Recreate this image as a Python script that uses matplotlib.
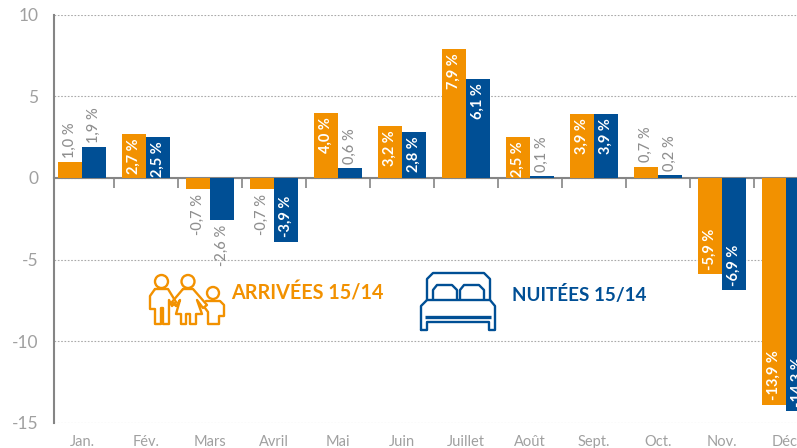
import matplotlib
matplotlib.use('Agg')
import numpy as np
import matplotlib.pyplot as plt
from matplotlib.patches import PathPatch, Circle
from matplotlib.path import Path

months = ['Jan.', 'Fév.', 'Mars', 'Avril', 'Mai', 'Juin', 'Juillet', 'Août', 'Sept.', 'Oct.', 'Nov.', 'Déc.']
arrivees = [1.0, 2.7, -0.7, -0.7, 4.0, 3.2, 7.9, 2.5, 3.9, 0.7, -5.9, -13.9]
nuitees = [1.9, 2.5, -2.6, -3.9, 0.6, 2.8, 6.1, 0.1, 3.9, 0.2, -6.9, -14.3]

ORANGE = '#f29100'
BLUE = '#004f95'
GREY = '#a0a0a0'
AXIS = '#858585'
plt.rcParams['font.family'] = ['Lato', 'DejaVu Sans']

fig = plt.figure(figsize=(7.97, 4.48), dpi=100)
W, H = 797, 448
# axes box in pixels: x 53.5..797, y 15..422.5
ax = fig.add_axes([53.5/W, 1-422.5/H, (W-53.5)/W, (422.5-15)/H])

x = np.arange(len(months))
bw = 0.37
ax.bar(x-bw/2, arrivees, bw, color=ORANGE, zorder=3)
ax.bar(x+bw/2, nuitees, bw, color=BLUE, zorder=3)


def put_label(xp, v):
    txt = f'{v:.1f} %'.replace('.', ',')
    inside = v >= 2.5 or v <= -3
    if inside:
        off, col, va = (-3, 'white', 'top') if v > 0 else (3, 'white', 'bottom')
    else:
        off, col, va = (3, '#8f8f8f', 'bottom') if v > 0 else (-3, '#8f8f8f', 'top')
    ax.annotate(txt, (xp, v), xytext=(0, off), textcoords='offset points', rotation=90,
                ha='center', va=va, color=col, fontsize=10.5, fontweight='bold' if inside else 'medium',
                zorder=4, annotation_clip=False)


for i in x:
    put_label(i-bw/2, arrivees[i])
    put_label(i+bw/2, nuitees[i])

ax.set_yticks([-15, -10, -5, 0, 5, 10])
ax.set_yticklabels(['-15', '-10', '-5', '0', '5', '10'], color=GREY, fontsize=12.5)
ax.tick_params(axis='y', length=0, pad=11)
ax.yaxis.grid(True, linestyle=(0, (1.5, 1.5)), color='#aaaaaa', linewidth=0.8)
ax.set_axisbelow(True)

for s in ['top', 'right']:
    ax.spines[s].set_visible(False)
ax.spines['left'].set_color(AXIS)
ax.spines['left'].set_linewidth(1.5)
ax.spines['bottom'].set_position(('data', 0))
ax.spines['bottom'].set_color(AXIS)
ax.spines['bottom'].set_linewidth(1.5)
ax.set_xticks(x+0.5)
ax.set_xticklabels([])
ax.tick_params(axis='x', length=7, width=1.2, color=AXIS, direction='out')

# limits after the ticks, set_xticks widens them otherwise
ax.set_xlim((53.5-82)/64, (797-82)/64)
ax.set_ylim(-15, 10)

for i, m in enumerate(months):
    ax.annotate(m, (i, -15), xytext=(0, -9), textcoords='offset points', ha='center', va='top',
                color=GREY, fontsize=10.5, annotation_clip=False)

# icons and legend text, drawn in pixel coords
ov = fig.add_axes([0, 0, 1, 1])
ov.set_xlim(0, W)
ov.set_ylim(H, 0)
ov.axis('off')
ov.patch.set_alpha(0)


def outline(pts, col, lw=1.7):
    ov.add_patch(PathPatch(Path(pts), fc='none', ec=col, lw=lw, joinstyle='round', capstyle='round'))


# family
for cx, cy, r in [(161.5, 281.5, 6.5), (188, 281.5, 6.5), (213, 293, 6)]:
    ov.add_patch(Circle((cx, cy), r, fc='none', ec=ORANGE, lw=1.7))
outline([(155, 289), (168, 289), (176, 302), (172, 306), (169, 300), (169, 324), (163, 324), (163, 308), (161, 308),
         (161, 324), (155, 324), (155, 309), (150, 309), (150, 296), (155, 289)], ORANGE)
outline([(183, 289), (193, 289), (207, 305), (203, 308), (197, 300), (202, 314), (196, 314), (196, 324), (190, 324),
         (190, 314), (186, 314), (186, 324), (181, 324), (181, 314), (176, 314), (180, 300), (176, 306), (172, 302),
         (183, 289)], ORANGE)
outline([(206, 301), (220, 301), (224, 305), (224, 316), (219, 316), (219, 324), (208, 324), (208, 312), (205, 308)], ORANGE)

# bed
outline([(427, 300), (427, 279), (433, 273), (484, 273), (490, 279), (490, 300)], BLUE)
outline([(433, 299), (433, 290), (437, 285), (452, 285), (457, 290), (457, 299)], BLUE)
outline([(460, 299), (460, 290), (464, 285), (479, 285), (484, 290), (484, 299)], BLUE)
outline([(421, 330), (421, 306), (427, 300), (490, 300), (495, 306), (495, 330), (489, 330), (489, 322), (427, 322),
         (427, 330), (421, 330)], BLUE)
ov.plot([425, 491], [317.5, 317.5], color=BLUE, lw=2.4, solid_capstyle='butt')

ov.text(231, 293, 'ARRIVÉES 15/14', color=ORANGE, fontsize=14.2, fontweight='bold', va='center', ha='left')
ov.text(512, 294, 'NUITÉES 15/14', color=BLUE, fontsize=13.6, fontweight='bold', va='center', ha='left')

fig.savefig('out.png', dpi=100)
